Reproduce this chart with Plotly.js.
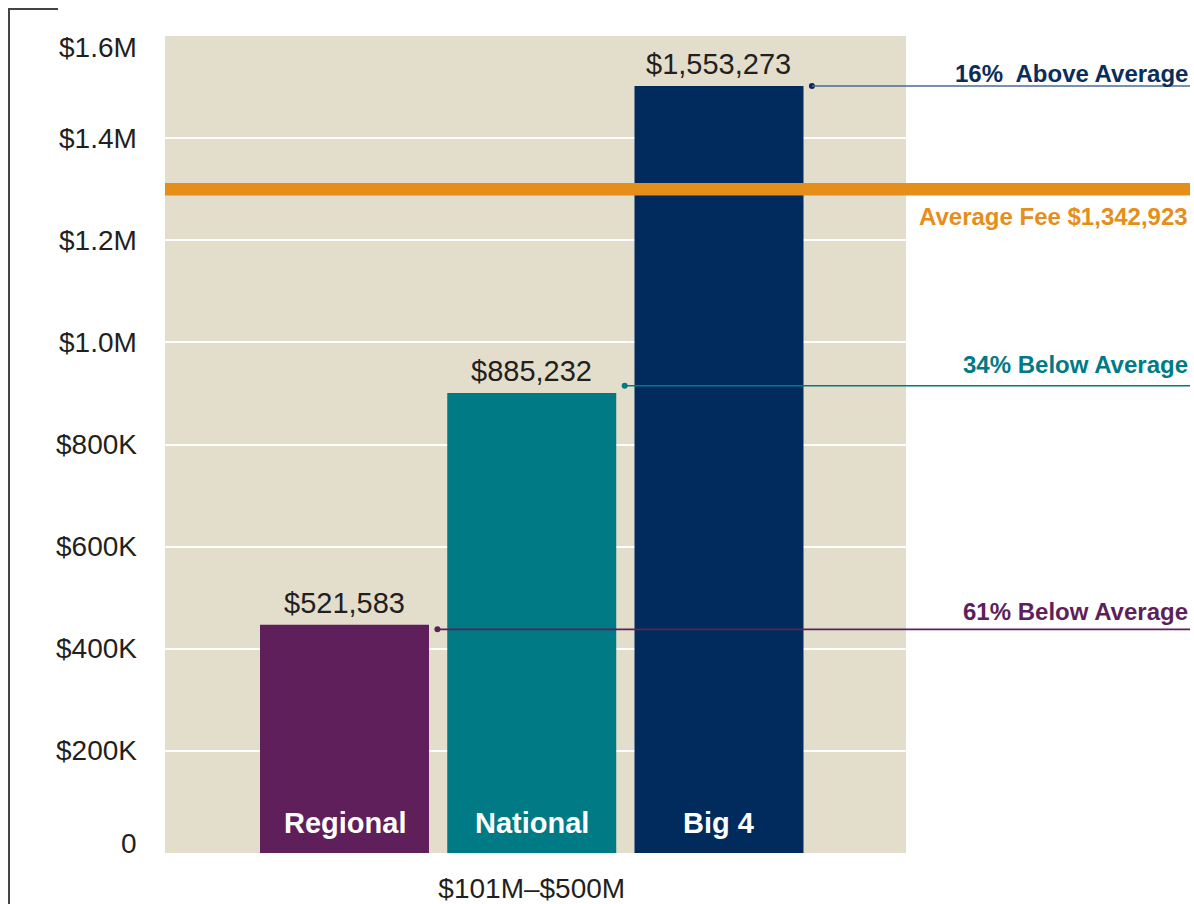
<!DOCTYPE html>
<html>
<head>
<meta charset="utf-8">
<script src="https://cdn.plot.ly/plotly-3.0.1.min.js"></script>
<style>
  body { margin: 0; background: #fff; }
  #feeChart { width: 1194px; height: 904px; }
</style>
</head>
<body>
<div id="feeChart"></div>
<script>
// values
const firmTypes = ['Regional', 'National', 'Big 4'];
const barHeights = [447000, 901000, 1502000];          // bar tops as drawn
const feeLabels = ['$521,583', '$885,232', '$1,553,273'];
const comparisonText = ['61% Below Average', '34% Below Average', '16%  Above Average'];
const leaderLevels = [438000, 915000, 1502000];
const averageFee = 1300000;
const averageLabel = 'Average Fee $1,342,923';
const revenueBand = '$101M–$500M';
const yTickVals = [0, 200000, 400000, 600000, 800000, 1000000, 1200000, 1400000, 1600000];
const yTickText = ['0', '$200K', '$400K', '$600K', '$800K', '$1.0M', '$1.2M', '$1.4M', '$1.6M'];

const barColors = ['#5f1f5b', '#007b86', '#002b5c'];
const leaderColors = ['#5f1f5b', '#007b86', '#4d6a8f'];
const dotColors = ['#5f1f5b', '#007b86', '#002b5c'];
const textColors = ['#5f1f5b', '#007b86', '#0b2d5b'];
const ORANGE = '#e58e1a';
const INK = '#231f20';
const FONT = 'Liberation Sans, Arial, sans-serif';

// page geometry (pixels)
const M = { l: 165, r: 288, t: 36, b: 51 };
const plotW = 1194 - M.l - M.r;
const plotH = 904 - M.t - M.b;
const X_RANGE = [-0.9586, 2.9987];
const Y_RANGE = [0, 1600000];
const px = p => (p - M.l) / plotW;                 // page x -> paper
const py = p => (904 - M.b - p) / plotH;           // page y -> paper
const dx = v => (v - X_RANGE[0]) / (X_RANGE[1] - X_RANGE[0]);
const dy = v => (v - Y_RANGE[0]) / (Y_RANGE[1] - Y_RANGE[0]);

const slots = firmTypes.map((_, i) => i);
const BAR_W = 0.9025;
const RIGHT_EDGE = px(1190);
const labelRows = [611, 365, 74];

const traces = [{
    type: 'bar',
    x: slots,
    y: barHeights,
    width: BAR_W,
    marker: { color: barColors, line: { width: 0 } },
    hoverinfo: 'skip',
    showlegend: false
}, {
    type: 'scatter',
    mode: 'markers',
    x: slots.map(i => i + BAR_W / 2 + 0.045),
    y: leaderLevels,
    marker: { color: dotColors, size: 6 },
    cliponaxis: false,
    hoverinfo: 'skip',
    showlegend: false
}];

const shapes = [];
slots.forEach(i => {
    shapes.push({
        type: 'line', xref: 'paper', yref: 'paper', layer: 'above',
        x0: dx(i + BAR_W / 2 + 0.045), x1: RIGHT_EDGE,
        y0: dy(leaderLevels[i]), y1: dy(leaderLevels[i]),
        line: { color: leaderColors[i], width: 1.6 }
    });
});
shapes.push({
    type: 'line', xref: 'paper', yref: 'paper', layer: 'above',
    x0: 0, x1: RIGHT_EDGE, y0: dy(averageFee), y1: dy(averageFee),
    line: { color: ORANGE, width: 12.5 }
});
// bracket at the left
shapes.push({
    type: 'path', xref: 'paper', yref: 'paper', layer: 'above',
    path: `M ${px(58)} ${py(9)} L ${px(9)} ${py(9)} L ${px(9)} ${py(906)}`,
    line: { color: '#444', width: 2 }
});

const annotations = [];
// y tick labels; the end ones sit inside the plot band
yTickVals.forEach((v, i) => {
    let shift = 0;
    if (i === 0) shift = 10;
    if (i === yTickVals.length - 1) shift = -11;
    annotations.push({
        x: px(139), y: v, xref: 'paper', yref: 'y',
        text: yTickText[i], showarrow: false,
        xanchor: 'right', yanchor: 'middle', yshift: shift,
        font: { family: FONT, size: 28, color: INK }
    });
});
slots.forEach(i => {
    annotations.push({
        x: i, y: barHeights[i], xref: 'x', yref: 'y',
        text: feeLabels[i], showarrow: false,
        yanchor: 'bottom', yshift: 4,
        font: { family: FONT, size: 29, color: INK }
    });
    annotations.push({
        x: i, y: 0, xref: 'x', yref: 'y',
        text: '<b>' + firmTypes[i] + '</b>', showarrow: false,
        yanchor: 'bottom', yshift: 12,
        font: { family: FONT, size: 29, color: '#fff' }
    });
    annotations.push({
        x: RIGHT_EDGE, y: py(labelRows[i]), xref: 'paper', yref: 'paper',
        text: '<b>' + comparisonText[i] + '</b>', showarrow: false,
        xanchor: 'right', yanchor: 'middle',
        font: { family: FONT, size: 24, color: textColors[i] }
    });
});
annotations.push({
    x: RIGHT_EDGE, y: py(217), xref: 'paper', yref: 'paper',
    text: '<b>' + averageLabel + '</b>', showarrow: false,
    xanchor: 'right', yanchor: 'middle',
    font: { family: FONT, size: 24, color: ORANGE }
});

const layout = {
    width: 1194,
    height: 904,
    margin: M,
    paper_bgcolor: '#fff',
    plot_bgcolor: '#e3decc',
    font: { family: FONT, size: 28, color: INK },
    showlegend: false,
    xaxis: {
        range: X_RANGE,
        tickvals: [1],
        ticktext: [revenueBand],
        ticks: 'outside', ticklen: 10, tickcolor: 'rgba(0,0,0,0)',
        showgrid: false, zeroline: false, showline: false,
        tickfont: { family: FONT, size: 28, color: INK },
        fixedrange: true
    },
    yaxis: {
        range: Y_RANGE,
        tickvals: yTickVals,
        showticklabels: false,
        showgrid: true, gridcolor: '#fff', gridwidth: 2,
        zeroline: false, showline: false,
        fixedrange: true
    },
    shapes,
    annotations
};

Plotly.newPlot('feeChart', traces, layout, { displayModeBar: false, staticPlot: true });
</script>
</body>
</html>
